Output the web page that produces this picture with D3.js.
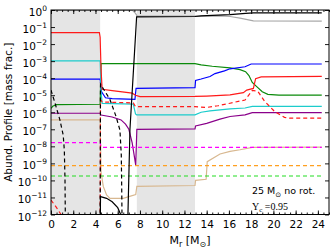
<!DOCTYPE html>
<html>
<head>
<meta charset="utf-8">
<script src="https://cdn.jsdelivr.net/npm/d3@7"></script>
<style>
  body { margin: 0; background: #fff; }
  svg { font-family: "DejaVu Sans", sans-serif; }
</style>
</head>
<body>
<div id="chart"></div>
<script>
// mass coordinate [Msun], log10 of mass fraction
const convZones = [[0, 4.42], [7.72, 12.95]];
const xTicks = [0, 2, 4, 6, 8, 10, 12, 14, 16, 18, 20, 22, 24];
const yDecades = [0, -1, -2, -3, -4, -5, -6, -7, -8, -9, -10, -11, -12];

const he4 = [[0, -0.03], [7.35, -0.03], [7.6, -0.2], [7.75, -0.36], [12.95, -0.36], [15.2, -0.35], [16.1, -0.38], [17.0, -0.48], [18.2, -0.64], [24.35, -0.65]];
const h1 = [[0, -14], [4.42, -14], [4.45, -10.95], [5.0, -11.05], [5.5, -11.25], [6.0, -11.6], [6.3, -12.05], [6.6, -13], [6.85, -13], [6.92, -12], [7.1, -7.0], [7.7, -0.4], [12.95, -0.38], [13.5, -0.34], [14.5, -0.31], [16.1, -0.27], [17.5, -0.2], [18.2, -0.17], [24.35, -0.17]];
const c12 = [[0, -1.33], [4.35, -1.33], [4.42, -1.6], [4.5, -3.5], [4.6, -4.65], [5.5, -4.73], [7.3, -4.88], [7.6, -5.0], [8.0, -5.08], [12.95, -5.07], [14.0, -5.05], [16.1, -4.98], [17.3, -4.85], [17.6, -4.7], [18.2, -4.6], [18.4, -4.03], [18.9, -3.93], [24.35, -3.9]];
const o16 = [[0, -5.78], [0.15, -5.65], [0.5, -5.55], [4.42, -5.53], [4.5, -3.15], [12.95, -3.15], [13.5, -3.22], [14.5, -3.3], [16.1, -3.4], [17.0, -3.5], [17.5, -3.62], [17.8, -3.85], [18.1, -4.25], [18.5, -4.5], [19.0, -4.8], [19.5, -4.95], [20.5, -4.99], [24.35, -5.0]];
const ne20 = [[0, -4.06], [4.42, -4.06], [4.55, -4.8], [4.9, -5.15], [5.5, -5.2], [7.55, -5.24], [7.65, -4.6], [12.95, -4.55], [13.0, -4.13], [13.5, -4.05], [14.3, -3.9], [14.75, -3.73], [15.6, -3.57], [16.1, -3.45], [17.45, -3.33], [18.0, -3.17], [24.35, -3.17]];
const n14 = [[0, -2.99], [4.42, -2.99], [4.5, -4.75], [4.6, -5.48], [7.4, -5.52], [7.6, -6.1], [7.7, -6.15], [12.95, -6.15], [13.5, -6.0], [14.3, -5.92], [16.1, -5.8], [17.45, -5.75], [18.1, -5.66], [24.35, -5.66]];
const mg24 = [[0, -6.06], [4.42, -6.06], [4.5, -6.16], [5.5, -6.28], [6.3, -6.45], [6.7, -6.7], [7.0, -7.0], [7.3, -7.8], [7.62, -9.1], [7.72, -7.0], [12.95, -6.97], [13.0, -6.8], [14.0, -6.65], [15.2, -6.4], [16.1, -6.25], [17.45, -6.15], [18.1, -6.02], [24.35, -6.02]];
const si28 = [[0, -6.45], [4.42, -6.45], [4.5, -9.5], [4.7, -10.35], [5.0, -10.85], [5.3, -11.05], [6.5, -11.05], [7.0, -10.95], [7.62, -10.83], [7.72, -10.35], [12.95, -10.3], [13.0, -10.0], [13.95, -9.93], [14.05, -8.9], [15.2, -8.45], [16.1, -8.3], [17.0, -8.2], [18.1, -8.06], [24.35, -8.05]];
const na23 = [[0, -7.78], [4.42, -7.78], [4.5, -8.06], [24.35, -8.06]];
const al27 = [[0, -9.13], [24.35, -9.13]];
const p31 = [[0, -9.74], [24.35, -9.74]];
const c13 = [[0, -11.15], [0.5, -11.6], [0.95, -12.05], [1.1, -13], [4.42, -13], [4.45, -5.25], [4.6, -5.4], [7.4, -5.45], [7.6, -5.67], [12.95, -5.67], [14.0, -5.72], [15.0, -5.62], [16.1, -5.47], [17.45, -5.28], [17.8, -4.98], [18.1, -4.72], [18.6, -4.77], [19.2, -5.35], [20.1, -5.95], [21.0, -6.3], [21.5, -6.35], [24.35, -6.35]];
const he3 = [[0, -4.7], [0.4, -5.55], [0.8, -6.45], [1.1, -7.35], [1.2, -8.25], [1.26, -10], [1.3, -13], [4.42, -13], [4.45, -4.35], [5.3, -5.25], [5.85, -6.25], [6.2, -7.05], [6.32, -8.5], [6.36, -10.5], [6.4, -13]];

const series = [
  { data: he4, color: '#a8a8a8', dash: null },
  { data: o16, color: '#0a8a0a', dash: null },
  { data: ne20, color: '#0000ff', dash: null },
  { data: n14, color: '#1ccccc', dash: null },
  { data: mg24, color: '#8a008a', dash: null },
  { data: si28, color: '#d8b890', dash: null },
  { data: c12, color: '#ff1a1a', dash: null },
  { data: na23, color: '#ff00ff', dash: '4,3' },
  { data: al27, color: '#ffa020', dash: '4,3' },
  { data: p31, color: '#22dd22', dash: '4,3' },
  { data: c13, color: '#ff1a1a', dash: '4,3' },
  { data: he3, color: '#000000', dash: '4,3' },
  { data: h1, color: '#000000', dash: null },
];

const width = 334;
const height = 251;
const margin = { top: 10, right: 5, bottom: 36.5, left: 51 };
const plotW = width - margin.left - margin.right;
const plotH = height - margin.top - margin.bottom;

const x = d3.scaleLinear().domain([0, 25]).range([0, plotW]);
const y = d3.scaleLog().domain([1e-12, 1]).range([plotH, 0]);

const svg = d3.select('#chart')
  .append('svg')
  .attr('width', width)
  .attr('height', height);

const g = svg.append('g')
  .attr('transform', `translate(${margin.left}, ${margin.top})`);

g.append('clipPath')
  .attr('id', 'clip')
  .append('rect')
  .attr('width', plotW)
  .attr('height', plotH);

g.selectAll('.zone')
  .data(convZones)
  .enter()
  .append('rect')
  .attr('x', (d) => x(d[0]))
  .attr('width', (d) => x(d[1]) - x(d[0]))
  .attr('y', 0)
  .attr('height', plotH)
  .style('fill', '#e5e5e5');

const line = d3.line()
  .x((d) => x(d[0]))
  .y((d) => y(Math.pow(10, d[1])));

g.append('g')
  .attr('clip-path', 'url(#clip)')
  .selectAll('path')
  .data(series)
  .enter()
  .append('path')
  .attr('d', (d) => line(d.data))
  .style('fill', 'none')
  .style('stroke', (d) => d.color)
  .style('stroke-width', 1.2)
  .style('stroke-dasharray', (d) => d.dash);

// axes, ticks pointing inward
const minorX = d3.range(0, 25.01, 0.5);
const axes = [
  g.append('g').attr('transform', `translate(0, ${plotH})`).call(d3.axisBottom(x).tickValues(minorX).tickSize(-2).tickFormat('')),
  g.append('g').attr('transform', `translate(0, ${plotH})`).call(d3.axisBottom(x).tickValues(xTicks).tickSize(-4).tickPadding(6)),
  g.append('g').call(d3.axisTop(x).tickValues(minorX).tickSize(-2).tickFormat('')),
  g.append('g').call(d3.axisTop(x).tickValues(xTicks).tickSize(-4).tickFormat('')),
  g.append('g').call(d3.axisLeft(y).tickValues(yDecades.map((e) => Math.pow(10, e))).tickSize(-4).tickFormat('')),
  g.append('g').attr('transform', `translate(${plotW}, 0)`).call(d3.axisRight(y).tickValues(yDecades.map((e) => Math.pow(10, e))).tickSize(-4).tickFormat('')),
];
axes.forEach((a) => {
  a.select('.domain').remove();
  a.selectAll('line').style('stroke', '#000').style('stroke-width', 0.9);
  a.selectAll('text').style('font-size', '10.5px').style('font-family', '"DejaVu Sans"').style('fill', '#000');
});

g.append('rect')
  .attr('width', plotW)
  .attr('height', plotH)
  .style('fill', 'none')
  .style('stroke', '#000')
  .style('stroke-width', 1);

// y tick labels as 10^n
const yLab = g.selectAll('.ylab')
  .data(yDecades)
  .enter()
  .append('text')
  .attr('x', -4)
  .attr('y', (d) => y(Math.pow(10, d)) + 6)
  .attr('text-anchor', 'end')
  .style('font-size', '10.5px');
yLab.append('tspan').text('10');
yLab.append('tspan')
  .attr('dy', -5)
  .style('font-size', '7.5px')
  .text((d) => (d < 0 ? '\u2212' + (-d) : d));

// axis titles
const xt = svg.append('text')
  .attr('x', margin.left + plotW / 2)
  .attr('y', 244)
  .attr('text-anchor', 'middle')
  .style('font-size', '11px');
xt.append('tspan').text('M');
xt.append('tspan').attr('dy', 3).style('font-size', '8px').text('r');
xt.append('tspan').attr('dy', -3).text(' [M');
xt.append('tspan').attr('dy', 3).style('font-size', '8px').text('\u2299');
xt.append('tspan').attr('dy', -3).text(']');

svg.append('text')
  .attr('transform', `translate(12, ${margin.top + plotH / 2}) rotate(-90)`)
  .attr('text-anchor', 'middle')
  .style('font-size', '10.5px')
  .text('Abund. Profile [mass frac.]');

// annotations
const note = svg.append('text')
  .attr('x', 252)
  .attr('y', 194)
  .style('font-size', '9.5px');
note.append('tspan').text('25 M');
note.append('tspan').attr('dy', 2.5).style('font-size', '7px').text('\u2299');
note.append('tspan').attr('dy', -2.5).text(' no rot.');

const yc = svg.append('text')
  .attr('x', 252)
  .attr('y', 210)
  .style('font-family', '"Liberation Serif", serif')
  .style('font-size', '10px');
yc.append('tspan').text('Y');
yc.append('tspan').attr('dy', 2).style('font-size', '7px').text('c');
yc.append('tspan').attr('dy', -2).text(' =0.95');
</script>
</body>
</html>
